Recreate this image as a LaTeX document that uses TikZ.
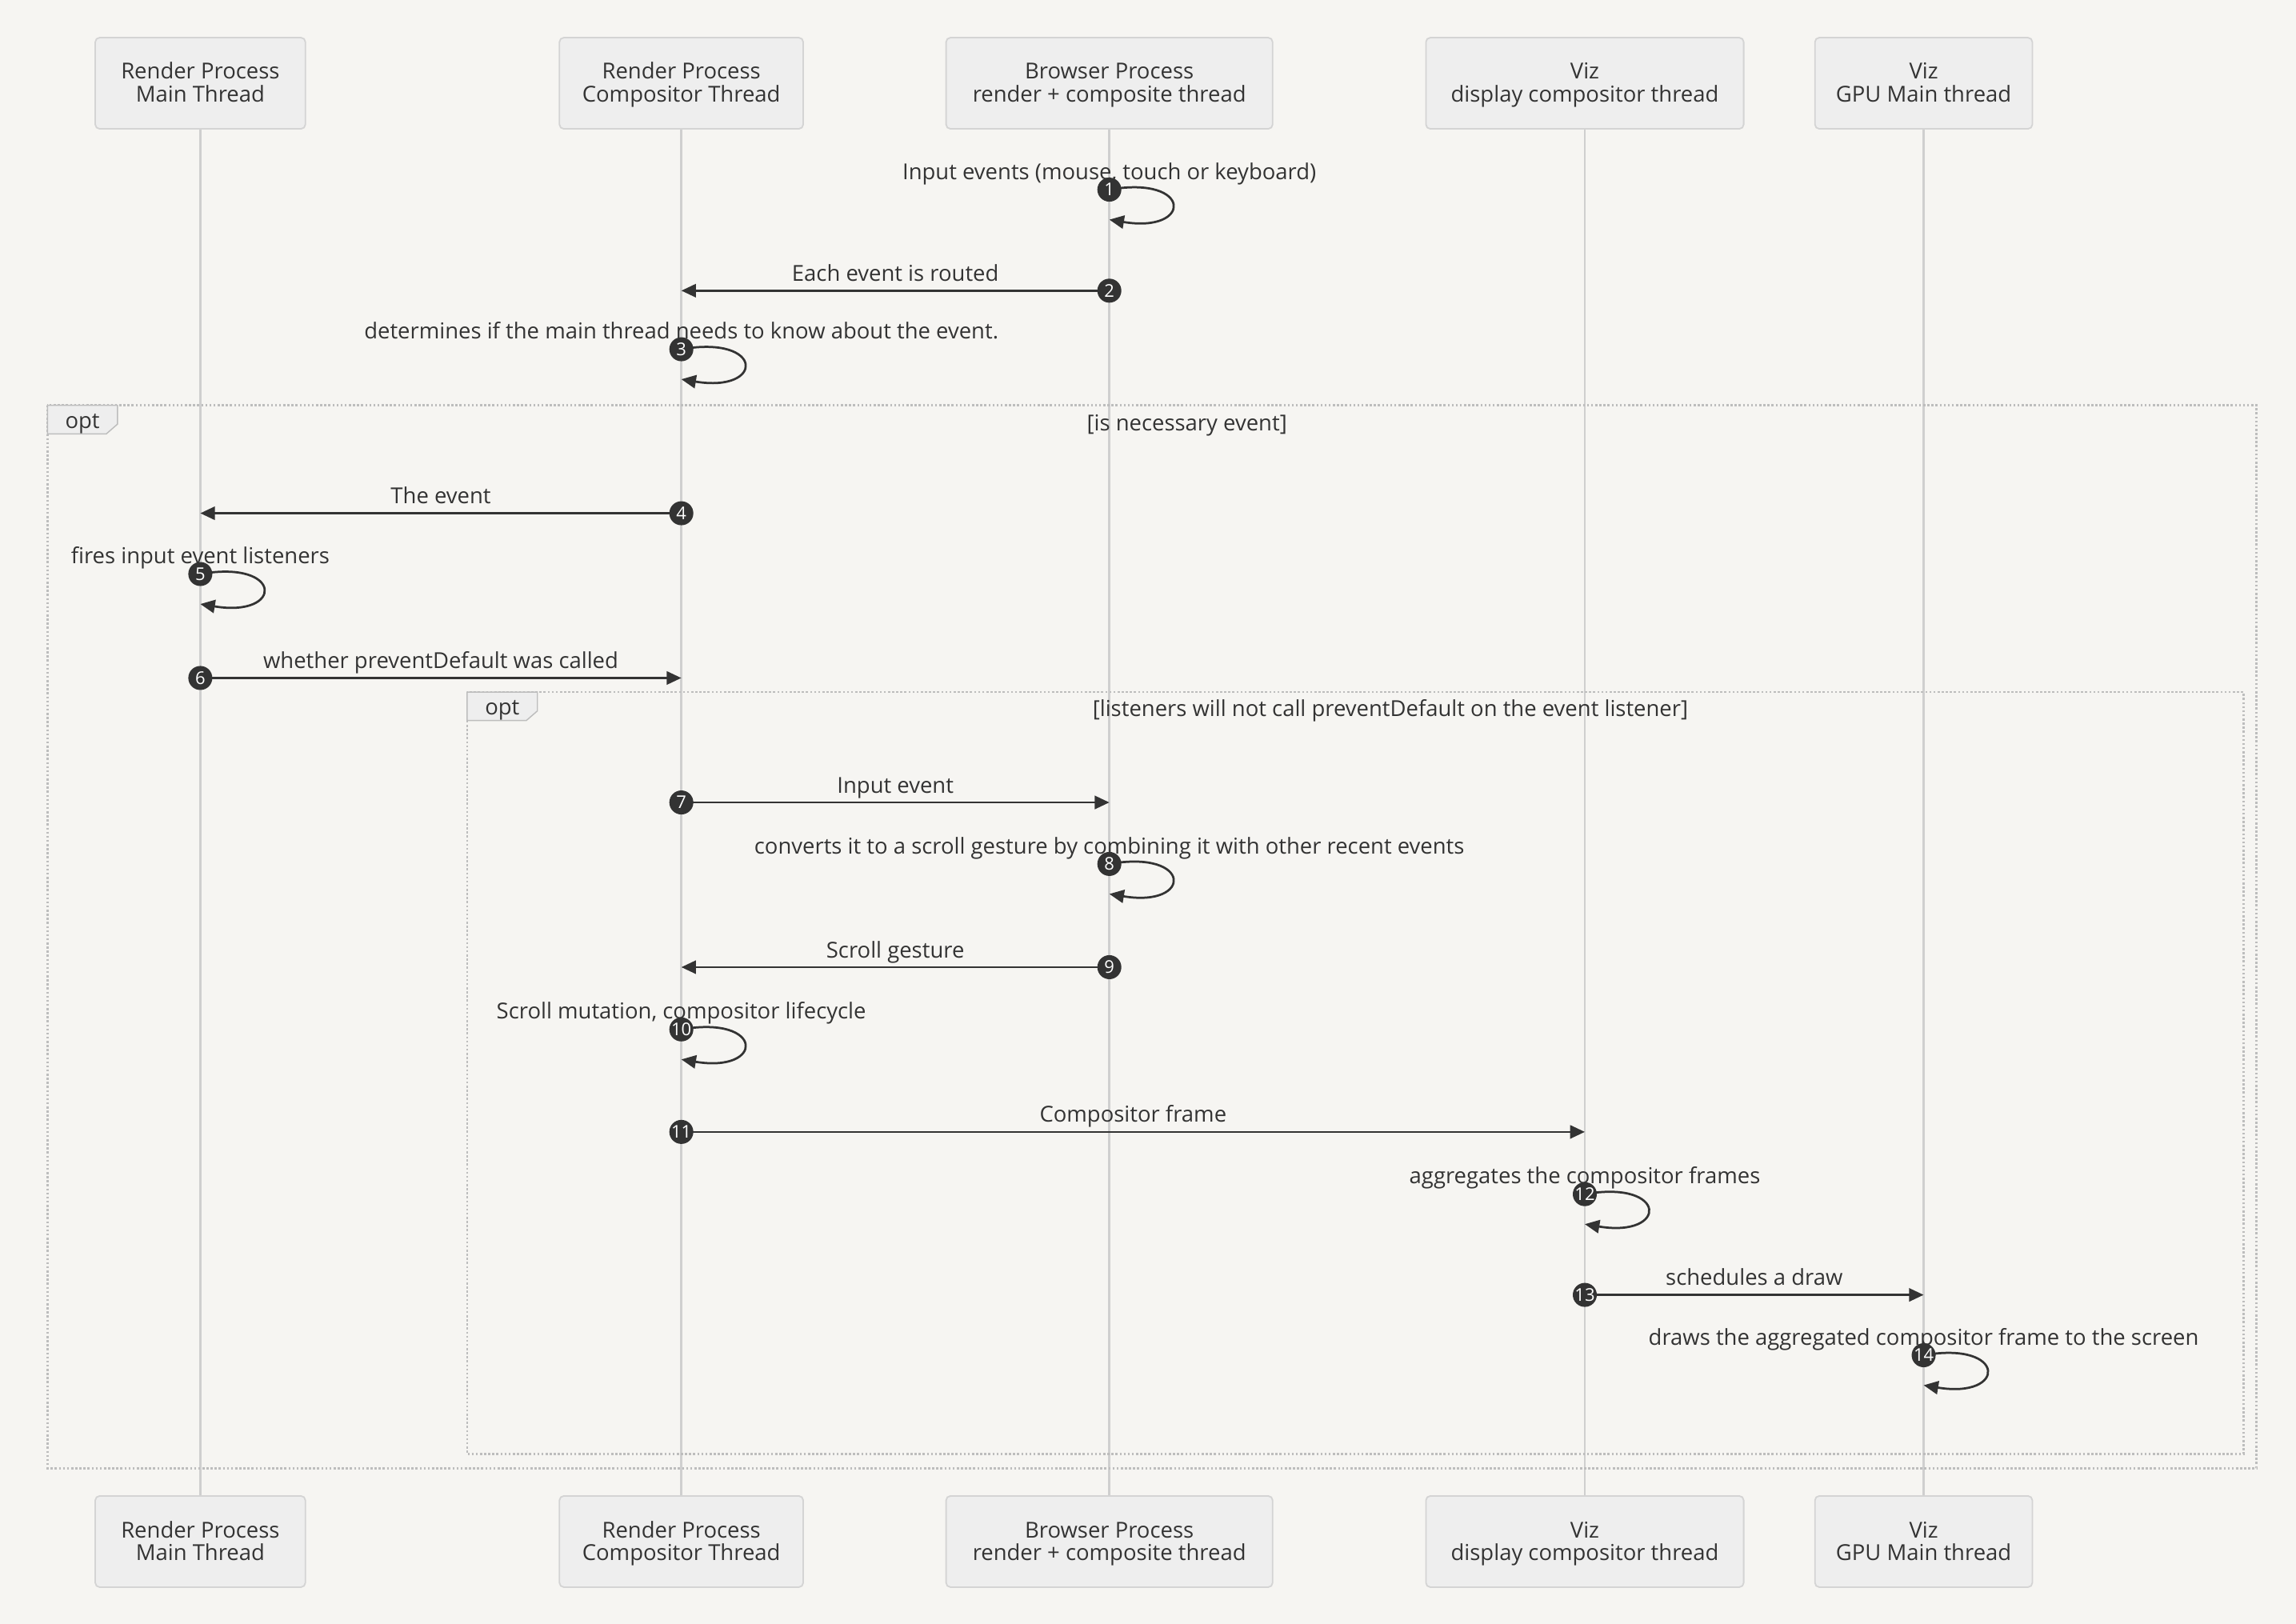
\documentclass[tikz,border=0pt]{standalone}
\usepackage{fontspec}
\setmainfont{Open Sans}
\usetikzlibrary{arrows.meta}
\definecolor{bg}{HTML}{F6F5F2}
\definecolor{boxfill}{HTML}{EEEEEE}
\definecolor{boxline}{HTML}{D4D4D4}
\definecolor{life}{HTML}{CFCFCF}
\definecolor{ink}{HTML}{333333}
\definecolor{frameline}{HTML}{BDBDBD}
\newcommand\txtfont{\fontsize{15}{15.5}\selectfont}
\newcommand\numfont{\fontsize{12}{12}\selectfont}
\newcommand\msgline[5]{%
  \coordinate (s#1) at (#2,#4);
  \coordinate (e#1) at (#3,#4);
  \draw[msg] (s#1) -- (e#1);
  \node[num] (n#1) at (s#1) {#1};
  \node[lbl] (l#1) at ({(#2+#3)/2},#4-6.5) {#5};
}
\newcommand\selfmsg[4]{%
  \coordinate (s#1) at (#2,#3);
  \coordinate (e#1) at (#2,#3+20.5);
  \draw[msg] (s#1) .. controls +(57,-10) and +(57,9.5) .. (e#1);
  \node[num] (n#1) at (s#1) {#1};
  \node[lbl] (l#1) at (#2,#3-7) {#4};
}
\begin{document}
\begin{tikzpicture}[x=1pt,y=-1pt,
  actor/.style={draw=boxline, fill=boxfill, line width=1pt, rounded corners=3pt,
    minimum height=62.3pt, inner sep=0pt},
  atext/.style={anchor=base, inner sep=0pt, text=ink, font=\txtfont},
  lifeline/.style={draw=life, line width=1.5pt},
  msg/.style={draw=ink, line width=1.5pt, -{Triangle[length=10pt,width=9pt]}},
  num/.style={circle, fill=ink, minimum size=16.4pt, inner sep=0pt, text=white, font=\numfont},
  lbl/.style={anchor=base, inner sep=0pt, text=ink, font=\txtfont},
  framebox/.style={draw=frameline, line width=1.5pt, dash pattern=on 1.4pt off 1.4pt},
  tab/.style={fill=boxfill, draw=frameline, line width=0.8pt},
]
% background / bounding box
\fill[bg] (0,0) rectangle (1568,1109);
\useasboundingbox (0,0) rectangle (1568,1109);

% actor boxes (top)
\node[actor, minimum width=143.5pt] (A) at (136.8,56.85) {};
\node[actor, minimum width=166.5pt] (B) at (465.3,56.85) {};
\node[actor, minimum width=223pt]   (C) at (757.6,56.85) {};
\node[actor, minimum width=217pt]   (D) at (1082.3,56.85) {};
\node[actor, minimum width=148.5pt] (E) at (1313.7,56.85) {};
% actor boxes (bottom)
\node[actor, minimum width=143.5pt] (Ab) at (136.8,1052.75) {};
\node[actor, minimum width=166.5pt] (Bb) at (465.3,1052.75) {};
\node[actor, minimum width=223pt]   (Cb) at (757.6,1052.75) {};
\node[actor, minimum width=217pt]   (Db) at (1082.3,1052.75) {};
\node[actor, minimum width=148.5pt] (Eb) at (1313.7,1052.75) {};

% lifelines
\draw[lifeline] (A.south) -- (Ab.north);
\draw[lifeline] (B.south) -- (Bb.north);
\draw[lifeline] (C.south) -- (Cb.north);
\draw[lifeline] (D.south) -- (Db.north);
\draw[lifeline] (E.south) -- (Eb.north);

% actor texts
\foreach \nm/\yy/\yyy in {t/54/69.5, b/1050.3/1065.8}{
  \node[atext] (A1\nm) at (136.8,\yy) {Render Process};
  \node[atext] (A2\nm) at (136.8,\yyy) {Main Thread};
  \node[atext] (B1\nm) at (465.3,\yy) {Render Process};
  \node[atext] (B2\nm) at (465.3,\yyy) {Compositor Thread};
  \node[atext] (C1\nm) at (757.6,\yy) {Browser Process};
  \node[atext] (C2\nm) at (757.6,\yyy) {render + composite thread};
  \node[atext] (D1\nm) at (1082.3,\yy) {Viz};
  \node[atext] (D2\nm) at (1082.3,\yyy) {display compositor thread};
  \node[atext] (E1\nm) at (1313.7,\yy) {Viz};
  \node[atext] (E2\nm) at (1313.7,\yyy) {GPU Main thread};
}

% opt frames
\draw[framebox] (32.4,276.8) rectangle (1541,1002.6);
\draw[tab] (32.4,276.8) -- (80.3,276.8) -- (80.3,289.6) -- (72.6,296.3) -- (32.4,296.3) -- cycle;
\node[lbl] (opt1) at (56.3,292.5) {opt};
\node[lbl] (cond1) at (810.6,294) {[is necessary event]};

\draw[framebox] (319,472.6) rectangle (1532,993);
\draw[tab] (319,472.6) -- (367,472.6) -- (367,485.5) -- (359.5,492) -- (319,492) -- cycle;
\node[lbl] (opt2) at (343,488.3) {opt};
\node[lbl] (cond2) at (949.5,489.3) {[listeners will not call preventDefault on the event listener]};

% messages
\selfmsg{1}{757.6}{129.5}{Input events (mouse, touch or keyboard)}
\msgline{2}{757.6}{465.3}{198.5}{Each event is routed}
\selfmsg{3}{465.3}{238.5}{determines if the main thread needs to know about the event.}
\msgline{4}{465.3}{136.8}{350.5}{The event}
\selfmsg{5}{136.8}{392}{fires input event listeners}
\msgline{6}{136.8}{465.3}{463}{whether preventDefault was called}
\msgline{7}{465.3}{757.6}{548}{Input event}
\selfmsg{8}{757.6}{590}{converts it to a scroll gesture by combining it with other recent events}
\msgline{9}{757.6}{465.3}{660.5}{Scroll gesture}
\selfmsg{10}{465.3}{703}{Scroll mutation, compositor lifecycle}
\msgline{11}{465.3}{1082.3}{773}{Compositor frame}
\selfmsg{12}{1082.3}{815.5}{aggregates the compositor frames}
\msgline{13}{1082.3}{1313.7}{884.3}{schedules a draw}
\selfmsg{14}{1313.7}{925.5}{draws the aggregated compositor frame to the screen}
\end{tikzpicture}
\end{document}
